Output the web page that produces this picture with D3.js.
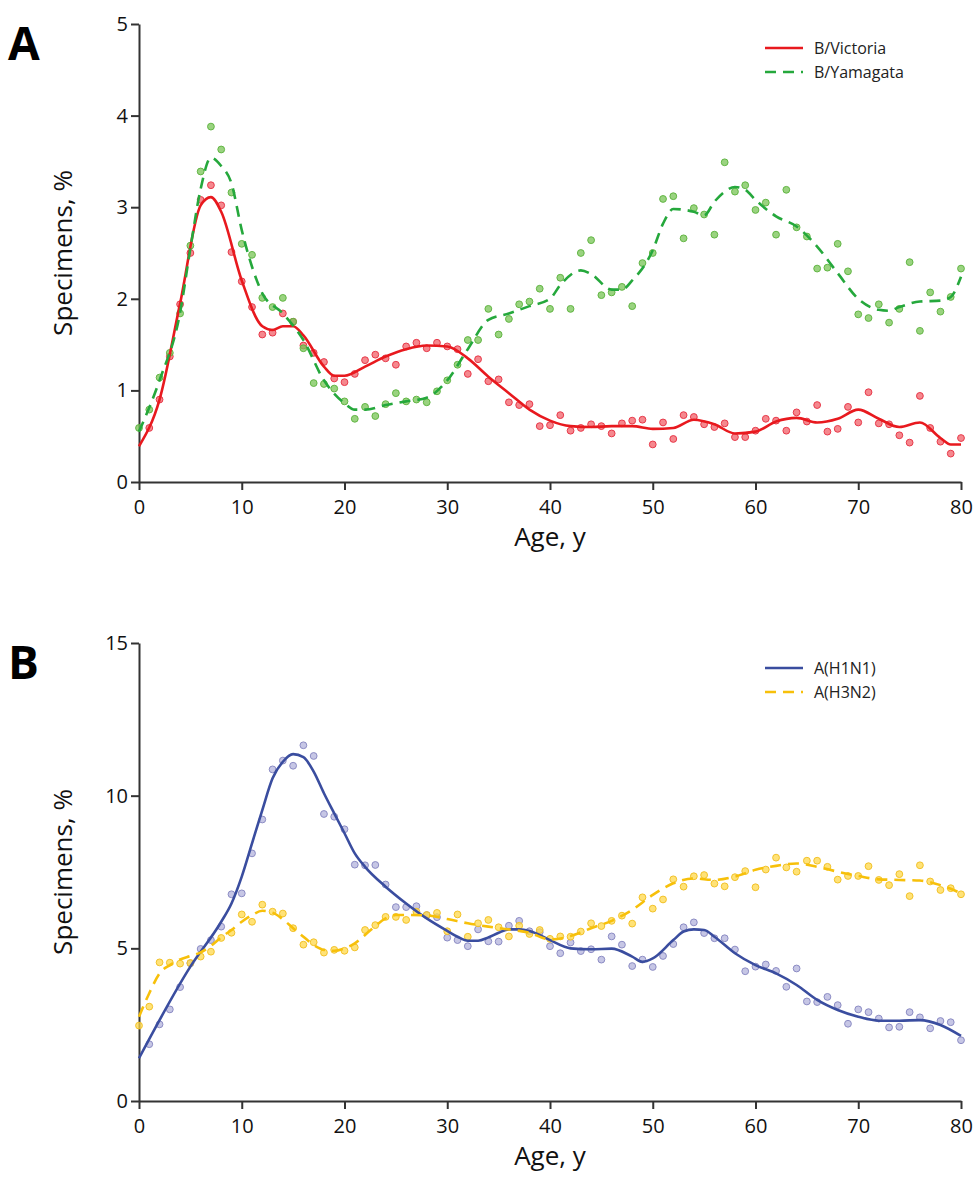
<!DOCTYPE html>
<html>
<head>
<meta charset="utf-8">
<script src="https://cdn.jsdelivr.net/npm/d3@7"></script>
<style>
  body { margin: 0; background: #fff; }
  text { font-family: "Open Sans", "Liberation Sans", sans-serif; }
</style>
</head>
<body>
<div id="chart"></div>
<script>
// Observed percentages by single year of age (points)
var vicStart = 1;
var vicPts = [0.59,0.90,1.37,1.94,2.50,3.08,3.24,3.02,2.51,2.19,1.91,1.61,1.63,1.84,1.75,1.49,1.41,1.31,1.13,1.09,
  1.18,1.33,1.39,1.35,1.28,1.48,1.52,1.46,1.52,1.48,1.45,1.18,1.34,1.10,1.12,0.87,0.84,0.85,0.61,0.62,
  0.73,0.56,0.59,0.63,0.61,0.53,0.64,0.67,0.68,0.41,0.65,0.47,0.73,0.71,0.63,0.60,0.64,0.49,0.49,0.56,
  0.69,0.67,0.56,0.76,0.66,0.84,0.55,0.58,0.82,0.65,0.98,0.64,0.63,0.51,0.43,0.94,0.59,0.44,0.31,0.48];
var yamStart = 0;
var yamPts = [0.59,0.79,1.14,1.41,1.84,2.58,3.39,3.88,3.63,3.16,2.60,2.48,2.01,1.91,2.01,1.75,1.46,1.08,1.07,1.02,
  0.88,0.69,0.82,0.72,0.85,0.97,0.88,0.90,0.87,0.99,1.11,1.28,1.55,1.55,1.89,1.61,1.78,1.94,1.97,2.11,
  1.89,2.23,1.89,2.50,2.64,2.04,2.07,2.13,1.92,2.39,2.50,3.09,3.12,2.66,2.99,2.92,2.70,3.49,3.17,3.24,
  2.97,3.05,2.70,3.19,2.78,2.68,2.33,2.34,2.60,2.30,1.83,1.79,1.94,1.74,1.89,2.40,1.65,2.07,1.86,2.02,2.33];
var h1Start = 1;
var h1Pts = [1.86,2.51,3.00,3.73,4.51,4.98,5.27,5.71,6.77,6.80,8.11,9.22,10.86,11.15,10.98,11.65,11.30,9.40,9.31,8.90,
  7.74,7.72,7.73,7.09,6.35,6.35,6.38,6.09,6.02,5.35,5.27,5.07,5.62,5.23,5.22,5.74,5.90,5.56,5.53,5.07,
  4.84,5.19,4.91,4.97,4.63,5.39,5.12,4.42,4.63,4.39,4.75,5.14,5.69,5.85,5.50,5.33,5.33,4.96,4.25,4.40,
  4.47,4.26,3.74,4.34,3.26,3.24,3.41,3.14,2.53,3.00,2.91,2.70,2.41,2.43,2.91,2.74,2.38,2.62,2.58,1.99];
var h3Start = 0;
var h3Pts = [2.47,3.09,4.54,4.53,4.50,4.52,4.73,4.89,5.34,5.51,6.11,5.87,6.43,6.20,6.14,5.66,5.12,5.20,4.86,4.95,
  4.92,5.03,5.60,5.76,6.03,6.03,5.93,6.20,6.09,6.16,5.56,6.11,5.38,5.82,5.93,5.69,5.39,5.74,5.47,5.60,
  5.31,5.39,5.38,5.55,5.82,5.73,5.90,6.07,5.81,6.67,6.30,6.60,7.26,7.02,7.36,7.40,7.12,7.03,7.33,7.53,
  7.00,7.58,7.97,7.65,7.51,7.87,7.87,7.67,7.25,7.37,7.37,7.69,7.24,7.07,7.43,6.71,7.72,7.19,6.91,6.97,6.77];

// Smoothed curves: [age, value]
var vicFit = [[0,0.39],[2,0.9],[4,1.95],[6,3.02],[7,3.11],[8,2.95],[10,2.2],[12,1.70],[13,1.66],[14,1.70],[15,1.70],
  [16,1.60],[18,1.26],[19,1.16],[20,1.16],[22,1.26],[24,1.37],[26,1.45],[28,1.49],[30,1.48],[32,1.35],[34,1.15],
  [36,0.97],[38,0.79],[40,0.67],[42,0.61],[44,0.60],[46,0.61],[48,0.61],[50,0.58],[52,0.59],[54,0.68],[56,0.63],
  [58,0.53],[60,0.55],[62,0.66],[64,0.70],[66,0.65],[68,0.69],[70,0.79],[72,0.69],[74,0.60],[76,0.65],[78,0.48],[79,0.41],[80,0.41]];
var yamFit = [[0,0.55],[2,1.11],[4,1.85],[5,2.55],[6,3.2],[7,3.54],[8,3.45],[9,3.26],[10,2.75],[11,2.35],[12,2.06],
  [14,1.84],[16,1.55],[18,1.11],[20,0.86],[21,0.79],[22,0.79],[24,0.84],[26,0.88],[28,0.92],[30,1.11],[32,1.45],
  [34,1.77],[36,1.84],[38,1.92],[40,2.0],[41,2.15],[43,2.31],[44,2.27],[46,2.10],[47,2.10],[48,2.2],[50,2.53],
  [51,2.82],[52,2.98],[54,2.95],[55,2.91],[56,3.06],[57,3.17],[58,3.22],[59,3.19],[60,3.08],[62,2.90],[64,2.79],
  [66,2.57],[68,2.28],[70,2.0],[72,1.88],[73,1.87],[74,1.91],[76,1.97],[78,1.98],[79,2.02],[80,2.24]];
var h1Fit = [[0,1.40],[5,4.4],[8,5.87],[9,6.47],[10,7.35],[11,8.44],[12,9.53],[13,10.57],[14,11.11],[15,11.36],
  [16,11.26],[17,10.79],[18,10.08],[19,9.42],[20,8.77],[21,8.11],[22,7.67],[24,7.02],[26,6.47],[28,5.98],[30,5.57],
  [31,5.38],[32,5.25],[33,5.25],[34,5.36],[35,5.51],[36,5.62],[37,5.62],[38,5.57],[40,5.27],[42,5.00],[44,4.97],
  [46,4.99],[48,4.73],[49,4.56],[50,4.67],[52,5.27],[53,5.55],[54,5.62],[55,5.60],[56,5.38],[58,4.84],[60,4.45],
  [62,4.18],[64,3.80],[66,3.31],[68,2.98],[70,2.76],[72,2.63],[74,2.63],[76,2.65],[78,2.49],[80,2.13]];
var h3Fit = [[0,2.76],[1,3.53],[2,4.18],[3,4.45],[4,4.64],[5,4.75],[6,4.87],[7,5.08],[8,5.36],[9,5.60],[10,5.87],
  [11,6.09],[12,6.23],[13,6.17],[14,5.95],[15,5.66],[16,5.38],[17,5.11],[18,4.95],[19,4.92],[20,5.00],[21,5.16],
  [22,5.44],[23,5.73],[24,5.98],[25,6.09],[26,6.09],[28,6.08],[30,5.96],[32,5.82],[34,5.71],[36,5.62],[38,5.51],
  [40,5.29],[42,5.40],[44,5.66],[46,5.90],[48,6.26],[50,6.75],[52,7.13],[54,7.29],[56,7.24],[58,7.35],[60,7.57],
  [62,7.70],[64,7.78],[66,7.67],[68,7.51],[70,7.37],[72,7.26],[74,7.24],[76,7.22],[78,7.07],[80,6.80]];

var xTicks = [0,10,20,30,40,50,60,70,80];

var svg = d3.select("#chart").append("svg")
  .attr("width", 976).attr("height", 1181);

var x = d3.scaleLinear().domain([0, 80]).range([139, 961]);

function panel(opt) {
  var y = d3.scaleLinear().domain([0, opt.ymax]).range([opt.bottom, opt.top]);
  var g = svg.append("g");

  var xa = g.append("g").attr("transform", `translate(0,${opt.bottom})`)
    .call(d3.axisBottom(x).tickValues(xTicks).tickSize(8).tickSizeOuter(0));
  var ya = g.append("g").attr("transform", `translate(139,0)`)
    .call(d3.axisLeft(y).tickValues(opt.yTicks).tickFormat(d3.format("d")).tickSize(8).tickSizeOuter(0));
  [xa, ya].forEach(function(a) {
    a.select(".domain").attr("stroke", "#333").attr("stroke-width", 2);
    a.selectAll(".tick line").attr("stroke", "#333").attr("stroke-width", 2);
    a.selectAll(".tick text").attr("font-size", 20).attr("fill", "#111")
      .style("font-family", "'Open Sans', sans-serif");
  });
  xa.selectAll(".tick text").attr("dy", "1.05em");

  var line = d3.line().x(d => x(d[0])).y(d => y(d[1])).curve(d3.curveMonotoneX);

  opt.series.forEach(function(s) {
    var pts = s.pts.map((v, i) => [s.start + i, v]);
    g.append("g").selectAll("circle").data(pts).enter().append("circle")
      .attr("cx", d => x(d[0])).attr("cy", d => y(d[1])).attr("r", 3.4)
      .attr("fill", s.dot).attr("fill-opacity", 0.75)
      .attr("stroke", s.dotStroke).attr("stroke-width", 1);
  });
  opt.series.forEach(function(s) {
    g.append("path").datum(s.fit).attr("d", line)
      .attr("fill", "none").attr("stroke", s.color).attr("stroke-width", 2.6)
      .attr("stroke-dasharray", s.dash ? "11,7" : null);
  });

  // legend
  opt.series.forEach(function(s, i) {
    var ly = opt.legendY + i * 24;
    g.append("line").attr("x1", 765).attr("x2", 803).attr("y1", ly).attr("y2", ly)
      .attr("stroke", s.color).attr("stroke-width", 2.6)
      .attr("stroke-dasharray", s.dash ? "11,7" : null);
    g.append("text").attr("x", 814).attr("y", ly + 6).attr("font-size", 16).attr("fill", "#222")
      .text(s.name);
  });

  g.append("text").attr("x", 550).attr("y", opt.bottom + 64).attr("text-anchor", "middle")
    .attr("font-size", 26).attr("fill", "#111").text("Age, y");
  g.append("text").attr("transform", `translate(72,${(opt.top + opt.bottom) / 2}) rotate(-90)`)
    .attr("text-anchor", "middle").attr("font-size", 26).attr("fill", "#111").text("Specimens, %");
  g.append("text").attr("x", 8).attr("y", opt.top + 36).attr("font-size", 46)
    .attr("font-weight", "bold").attr("fill", "#000").text(opt.letter);
}

panel({
  top: 24, bottom: 482, ymax: 5, yTicks: [0,1,2,3,4,5], letter: "A", legendY: 48,
  series: [
    { name: "B/Victoria", start: vicStart, pts: vicPts, fit: vicFit, color: "#e8191e", dot: "#f26068", dotStroke: "#e8394a", dash: false },
    { name: "B/Yamagata", start: yamStart, pts: yamPts, fit: yamFit, color: "#25a83c", dot: "#78c455", dotStroke: "#62b644", dash: true }
  ]
});
panel({
  top: 643, bottom: 1101, ymax: 15, yTicks: [0,5,10,15], letter: "B", legendY: 668,
  series: [
    { name: "A(H1N1)", start: h1Start, pts: h1Pts, fit: h1Fit, color: "#3a4d9f", dot: "#b3b3dc", dotStroke: "#8c8cc4", dash: false },
    { name: "A(H3N2)", start: h3Start, pts: h3Pts, fit: h3Fit, color: "#f7c00a", dot: "#ffd84a", dotStroke: "#f2c22a", dash: true }
  ]
});
</script>
</body>
</html>
